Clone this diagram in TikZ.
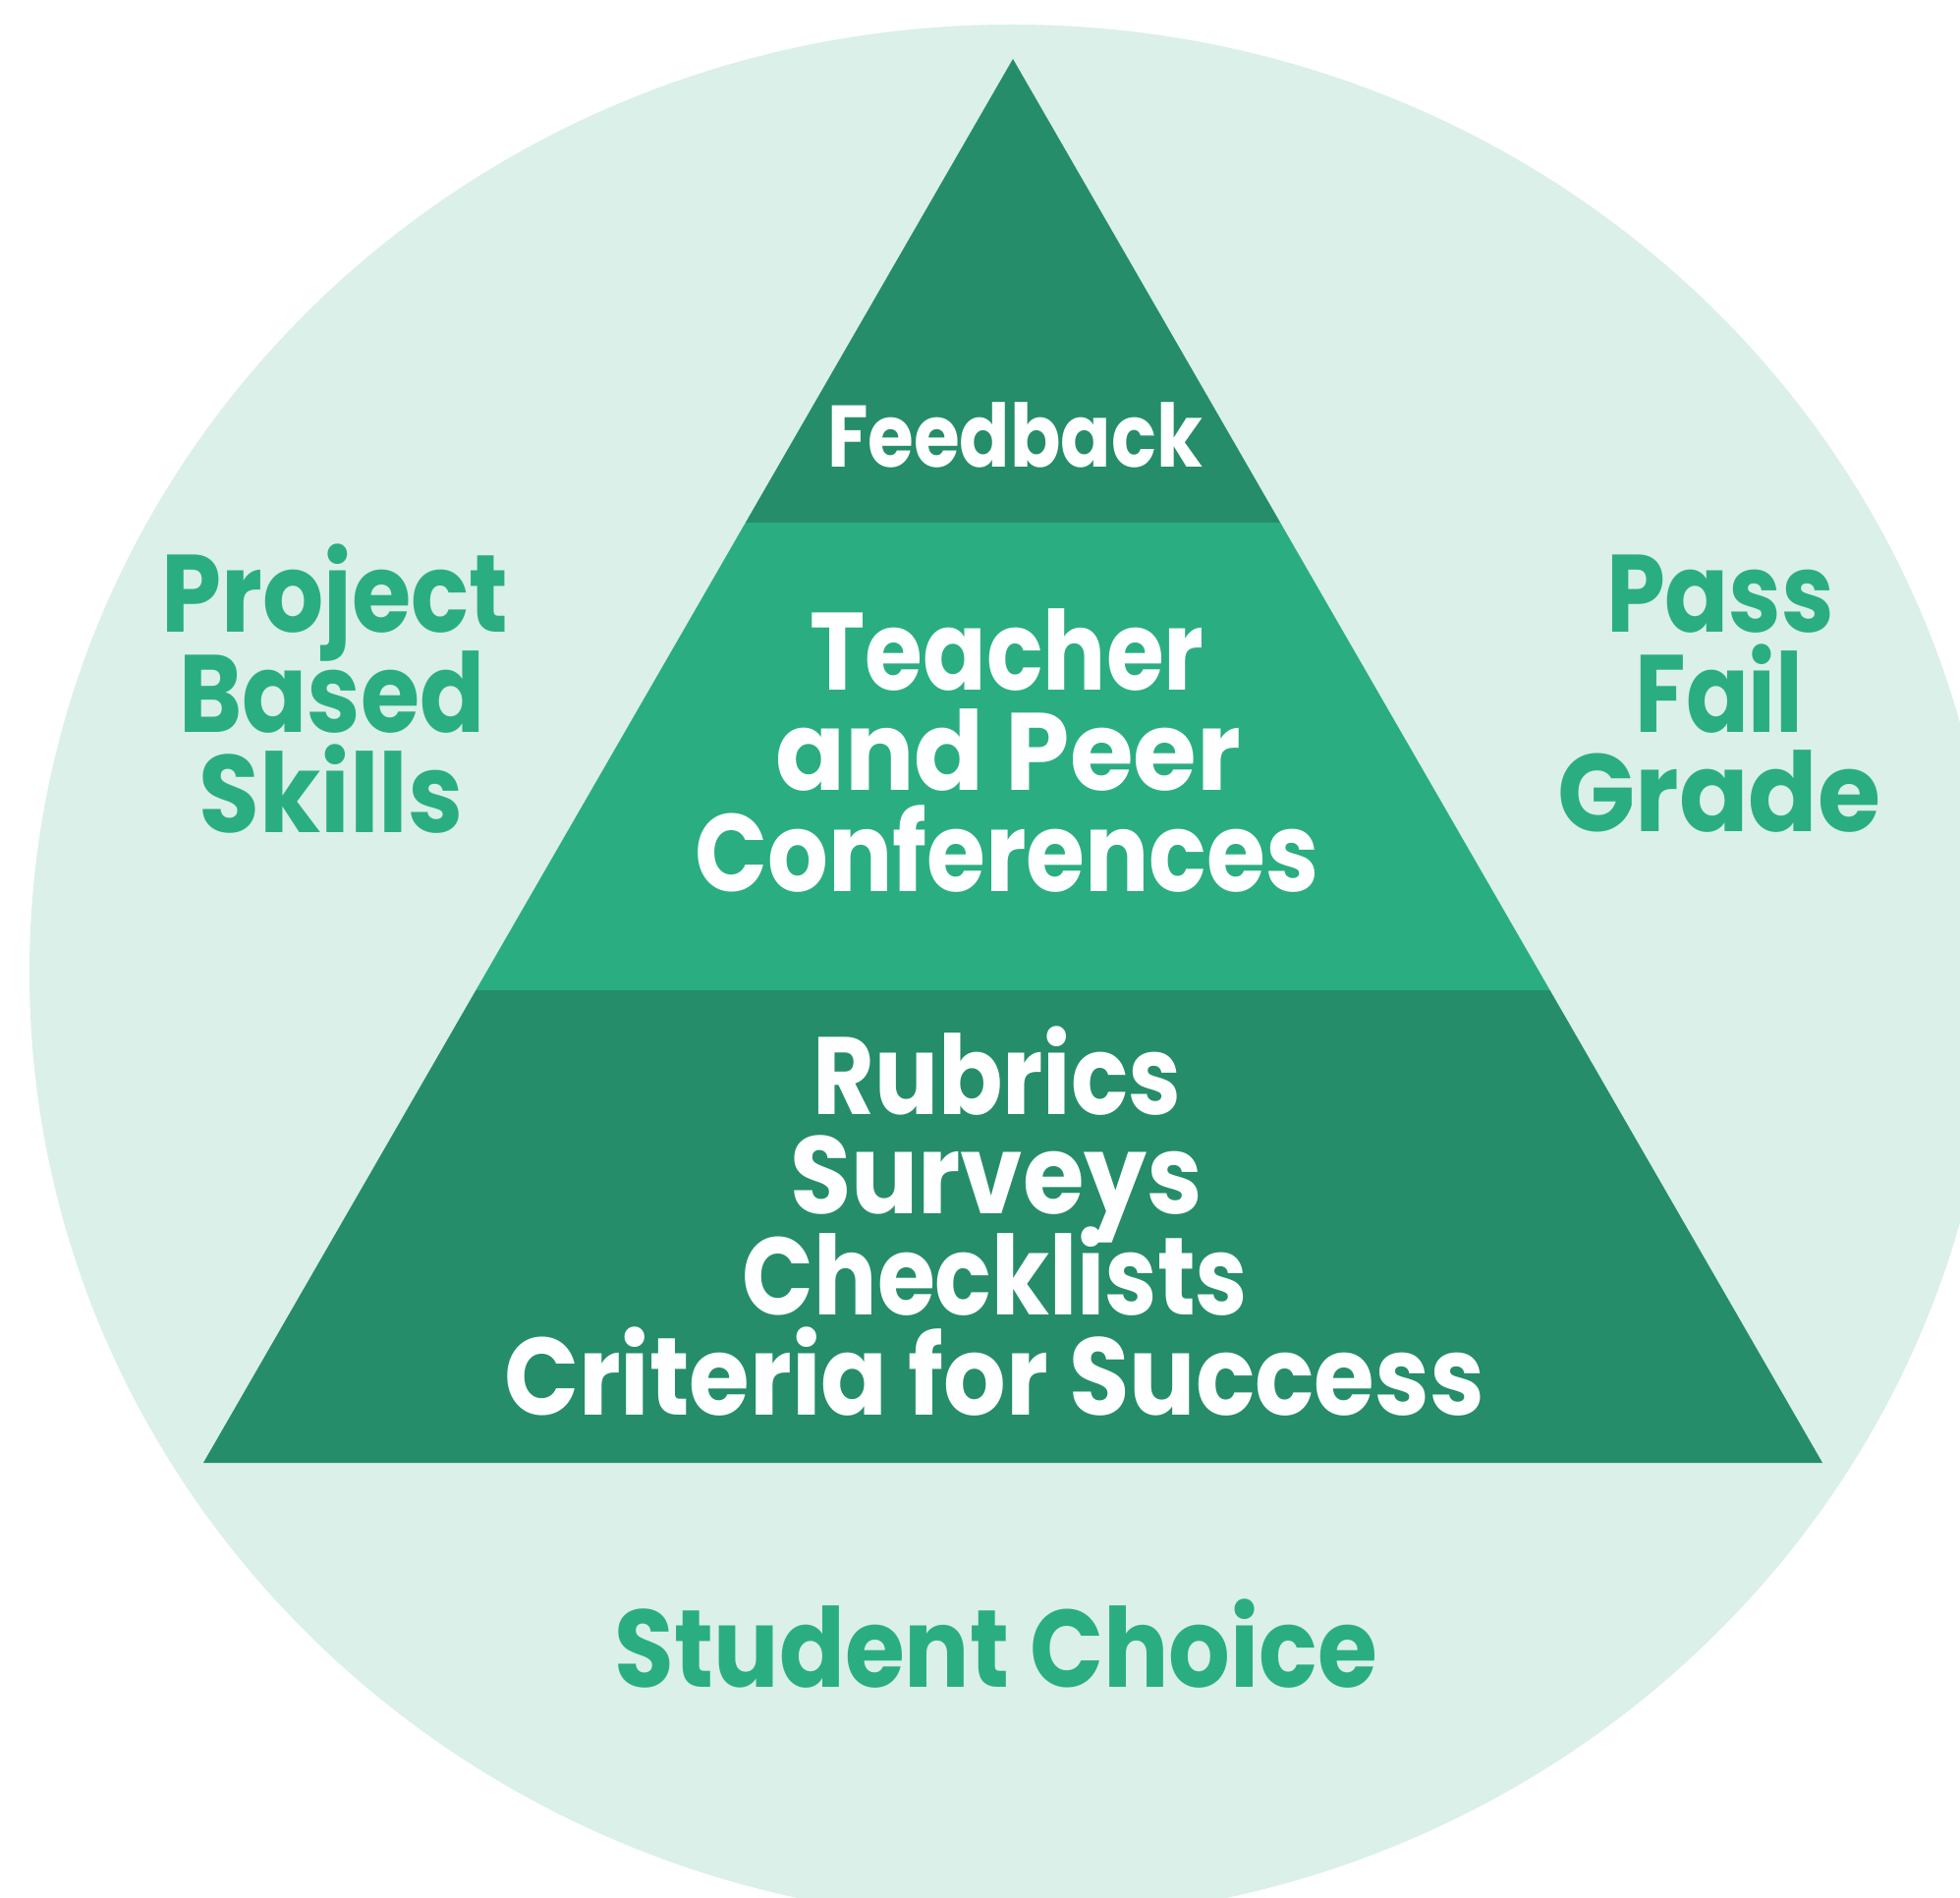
\documentclass[tikz,border=0pt]{standalone}
\usepackage{fontspec}
\setmainfont{Poppins}
\usepackage{graphicx}
\usetikzlibrary{calc}
\definecolor{bgmint}{HTML}{DAF0E8}
\definecolor{darkg}{HTML}{258D6A}
\definecolor{lightg}{HTML}{2AAE81}
\newcommand{\fitw}[2]{\resizebox{#1pt}{\height}{#2}}
\begin{document}
\begin{tikzpicture}[x=1pt,y=-1pt,
  bigtxt/.style={anchor=base, inner sep=0pt, font=\fontsize{112}{112}\selectfont\bfseries},
  intxt/.style={bigtxt, text=white},
  outtxt/.style={bigtxt, text=lightg},
  toptxt/.style={intxt, font=\fontsize{89}{89}\selectfont\bfseries}]
\useasboundingbox (0,0) rectangle (1995,1932);
\clip (0,0) rectangle (1995,1932);
\fill[white] (0,0) rectangle (1995,1932);
\fill[bgmint] (1030,990) ellipse [x radius=1000, y radius=965];
\coordinate (apex) at (1031,60);
\coordinate (bl) at (207,1489);
\coordinate (br) at (1855,1489);
\coordinate (l1) at ($(apex)!0.3303!(bl)$);
\coordinate (r1) at ($(apex)!0.3303!(br)$);
\coordinate (l2) at ($(apex)!0.6634!(bl)$);
\coordinate (r2) at ($(apex)!0.6634!(br)$);
\fill[darkg] (apex) -- (l1) -- (r1) -- cycle;
\fill[lightg] (l1) -- (l2) -- (r2) -- (r1) -- cycle;
\fill[darkg] (l2) -- (bl) -- (br) -- (r2) -- cycle;
% top band
\node[toptxt] (feedback) at (1033,475) {\fitw{382}{Feedback}};
% middle band
\node[intxt] (teacher) at (1025,702) {\fitw{401}{Teacher}};
\node[intxt] (andpeer) at (1026,804) {\fitw{474}{and Peer}};
\node[intxt] (conf) at (1025,907) {\fitw{635}{Conferences}};
% bottom band
\node[intxt] (rubrics) at (1015,1134) {\fitw{375}{Rubrics}};
\node[intxt] (surveys) at (1014,1235) {\fitw{420}{Surveys}};
\node[intxt] (checklists) at (1013,1338) {\fitw{514}{Checklists}};
\node[intxt] (criteria) at (1012,1440) {\fitw{998}{Criteria for Success}};
% outside labels
\node[outtxt] (project) at (341,643) {\fitw{353}{Project}};
\node[outtxt] (based) at (338,745) {\fitw{311}{Based}};
\node[outtxt] (skills) at (337,847) {\fitw{269}{Skills}};
\node[outtxt] (pass) at (1751,643) {\fitw{232}{Pass}};
\node[outtxt] (fail) at (1750,745) {\fitw{171}{Fail}};
\node[outtxt] (grade) at (1750,846) {\fitw{329}{Grade}};
\node[outtxt] (choice) at (1014,1717) {\fitw{776}{Student Choice}};
\end{tikzpicture}
\end{document}
